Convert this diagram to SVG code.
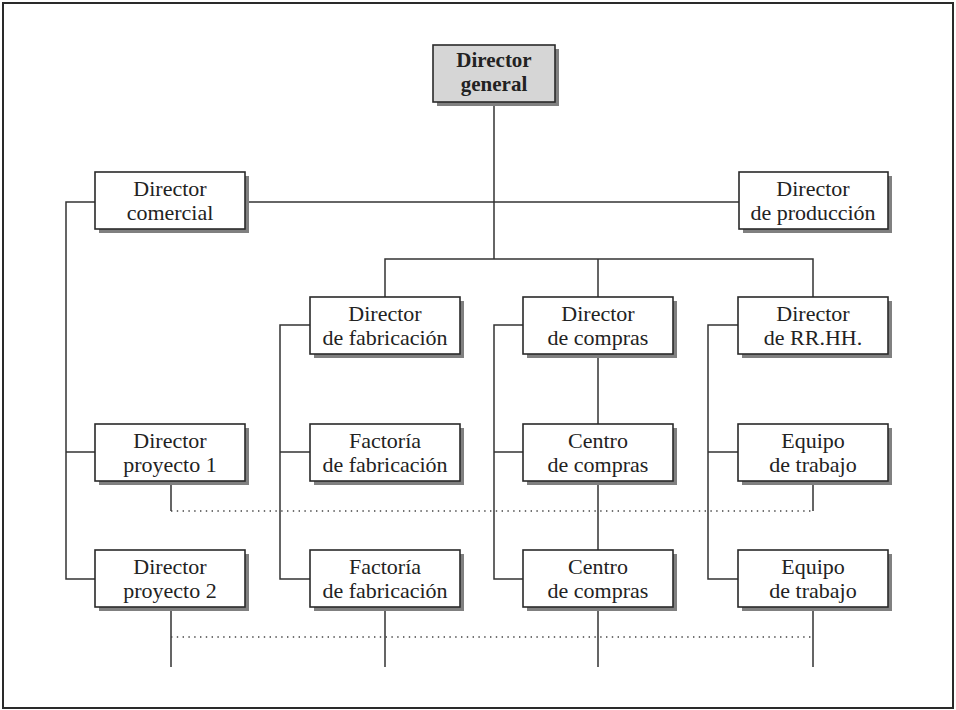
<svg xmlns="http://www.w3.org/2000/svg" width="956" height="710" viewBox="0 0 956 710">
  <style>
    .frame { fill: #ffffff; stroke: #2a2a2a; stroke-width: 2; }
    .shadow { fill: #808080; stroke: none; }
    .box { fill: #ffffff; stroke: #2a2a2a; stroke-width: 1.6; }
    .box.top { fill: #d6d6d6; }
    .lbl { font-family: "Liberation Serif", "Times New Roman", serif; font-size: 22px; fill: #222222; text-anchor: middle; }
    .lbl.b { font-weight: bold; font-size: 21px; }
    .ln { fill: none; stroke: #333333; stroke-width: 1.5; }
    .dot { fill: none; stroke: #444444; stroke-width: 1.3; stroke-dasharray: 1.4 4.4; }
  </style>

  <rect class="frame" x="3" y="3" width="950" height="705"/>

  <!-- connectors -->
  <g id="connectors">
    <!-- trunk from Director general -->
    <path class="ln" d="M494 102 V259"/>
    <path class="ln" d="M245 202 H739"/>
    <path class="ln" d="M385 297 V259 H813 V297 M598 259 V297"/>
    <!-- commercial branch -->
    <path class="ln" d="M95 202 H66 V579 H95 M66 452 H95"/>
    <!-- manufacturing branch -->
    <path class="ln" d="M310 325 H280 V579 H310 M280 452 H310"/>
    <!-- purchasing branch -->
    <path class="ln" d="M523 325 H494 V579 H523 M494 452 H523"/>
    <path class="ln" d="M598 354 V424 M598 481 V550"/>
    <!-- HR branch -->
    <path class="ln" d="M738 325 H708 V579 H738 M708 452 H738"/>
    <!-- links between projects and units -->
    <path class="ln" d="M171 481 V511 M813 481 V511"/>
    <path class="dot" d="M171 511 H813"/>
    <path class="ln" d="M171 607 V667 M385 607 V667 M598 607 V667 M813 607 V667"/>
    <path class="dot" d="M171 637 H813"/>
  </g>

  <!-- nodes -->
  <g id="n-general">
    <rect class="shadow" x="437" y="49" width="122" height="57"/>
    <rect class="box top" x="433" y="45" width="122" height="57"/>
    <text class="lbl b" x="494" y="67">Director</text>
    <text class="lbl b" x="494" y="91">general</text>
  </g>

  <g id="n-comercial">
    <rect class="shadow" x="99" y="176" width="150" height="57"/>
    <rect class="box" x="95" y="172" width="150" height="57"/>
    <text class="lbl" x="170" y="196">Director</text>
    <text class="lbl" x="170" y="220">comercial</text>
  </g>

  <g id="n-produccion">
    <rect class="shadow" x="743" y="176" width="149" height="57"/>
    <rect class="box" x="739" y="172" width="149" height="57"/>
    <text class="lbl" x="813" y="196">Director</text>
    <text class="lbl" x="813" y="220">de producción</text>
  </g>

  <g id="n-fabricacion">
    <rect class="shadow" x="314" y="301" width="150" height="57"/>
    <rect class="box" x="310" y="297" width="150" height="57"/>
    <text class="lbl" x="385" y="321">Director</text>
    <text class="lbl" x="385" y="345">de fabricación</text>
  </g>

  <g id="n-compras">
    <rect class="shadow" x="527" y="301" width="150" height="57"/>
    <rect class="box" x="523" y="297" width="150" height="57"/>
    <text class="lbl" x="598" y="321">Director</text>
    <text class="lbl" x="598" y="345">de compras</text>
  </g>

  <g id="n-rrhh">
    <rect class="shadow" x="742" y="301" width="150" height="57"/>
    <rect class="box" x="738" y="297" width="150" height="57"/>
    <text class="lbl" x="813" y="321">Director</text>
    <text class="lbl" x="813" y="345">de RR.HH.</text>
  </g>

  <g id="n-proyecto1">
    <rect class="shadow" x="99" y="428" width="150" height="57"/>
    <rect class="box" x="95" y="424" width="150" height="57"/>
    <text class="lbl" x="170" y="448">Director</text>
    <text class="lbl" x="170" y="472">proyecto 1</text>
  </g>

  <g id="n-factoria1">
    <rect class="shadow" x="314" y="428" width="150" height="57"/>
    <rect class="box" x="310" y="424" width="150" height="57"/>
    <text class="lbl" x="385" y="448">Factoría</text>
    <text class="lbl" x="385" y="472">de fabricación</text>
  </g>

  <g id="n-centro1">
    <rect class="shadow" x="527" y="428" width="150" height="57"/>
    <rect class="box" x="523" y="424" width="150" height="57"/>
    <text class="lbl" x="598" y="448">Centro</text>
    <text class="lbl" x="598" y="472">de compras</text>
  </g>

  <g id="n-equipo1">
    <rect class="shadow" x="742" y="428" width="150" height="57"/>
    <rect class="box" x="738" y="424" width="150" height="57"/>
    <text class="lbl" x="813" y="448">Equipo</text>
    <text class="lbl" x="813" y="472">de trabajo</text>
  </g>

  <g id="n-proyecto2">
    <rect class="shadow" x="99" y="554" width="150" height="57"/>
    <rect class="box" x="95" y="550" width="150" height="57"/>
    <text class="lbl" x="170" y="574">Director</text>
    <text class="lbl" x="170" y="598">proyecto 2</text>
  </g>

  <g id="n-factoria2">
    <rect class="shadow" x="314" y="554" width="150" height="57"/>
    <rect class="box" x="310" y="550" width="150" height="57"/>
    <text class="lbl" x="385" y="574">Factoría</text>
    <text class="lbl" x="385" y="598">de fabricación</text>
  </g>

  <g id="n-centro2">
    <rect class="shadow" x="527" y="554" width="150" height="57"/>
    <rect class="box" x="523" y="550" width="150" height="57"/>
    <text class="lbl" x="598" y="574">Centro</text>
    <text class="lbl" x="598" y="598">de compras</text>
  </g>

  <g id="n-equipo2">
    <rect class="shadow" x="742" y="554" width="150" height="57"/>
    <rect class="box" x="738" y="550" width="150" height="57"/>
    <text class="lbl" x="813" y="574">Equipo</text>
    <text class="lbl" x="813" y="598">de trabajo</text>
  </g>
</svg>
